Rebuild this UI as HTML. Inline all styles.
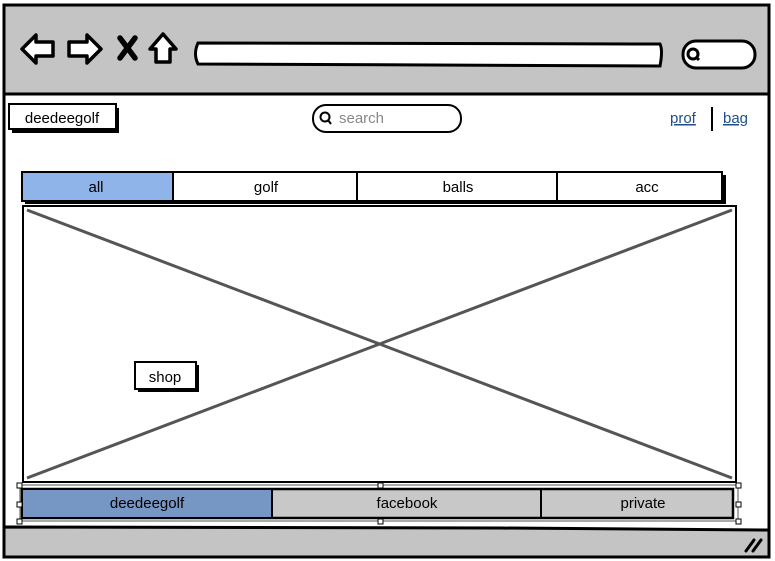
<!DOCTYPE html>
<html><head><meta charset="utf-8"><style>
html,body{margin:0;padding:0;background:#fff;}
svg{display:block;font-family:"Liberation Sans",sans-serif;}
</style></head><body>
<svg width="775" height="561" viewBox="0 0 775 561" xmlns="http://www.w3.org/2000/svg">
<rect x="0" y="0" width="775" height="561" fill="#fff"/>
<rect x="4" y="5" width="765" height="89" fill="#c4c4c4"/>
<line x1="4" y1="94" x2="769" y2="94" stroke="#000" stroke-width="3"/>
<path d="M4 527 L500 528 L769 530 L769 557 L4 557 Z" fill="#c4c4c4" stroke="#000" stroke-width="3"/>
<rect x="4" y="5" width="765" height="552" fill="none" stroke="#000" stroke-width="3"/>
<path d="M22 49 L36 35 L36 42 L53 42 L53 56 L36 56 L36 63 Z" fill="#fff" stroke="#000" stroke-width="3.5" stroke-linejoin="round"/>
<path d="M101 49 L87 35 L87 42 L69 42 L69 56 L87 56 L87 63 Z" fill="#fff" stroke="#000" stroke-width="3.5" stroke-linejoin="round"/>
<path d="M120 38 L135 58 M135 38 L120 58" stroke="#000" stroke-width="5.5" stroke-linecap="round"/>
<path d="M150 49 L163 34 L176 49 L170 49 L170 62 L156 62 L156 49 Z" fill="#fff" stroke="#000" stroke-width="3.5" stroke-linejoin="round"/>
<path d="M198 43 L660 44 Q663 50 660 66 L198 64 Q193 54 198 43 Z" fill="#fff" stroke="#000" stroke-width="3"/>
<rect x="683" y="41" width="72" height="27" rx="13" fill="#fff" stroke="#000" stroke-width="3"/>
<circle cx="693" cy="54" r="5" fill="none" stroke="#000" stroke-width="3"/>
<line x1="696" y1="57" x2="699" y2="60" stroke="#000" stroke-width="3"/>
<rect x="12" y="108" width="107" height="25" fill="#000"/>
<rect x="9" y="104" width="107" height="25" fill="#fff" stroke="#000" stroke-width="2"/>
<text x="62" y="123" font-size="15" text-anchor="middle">deedeegolf</text>
<rect x="313" y="105" width="148" height="27" rx="13" fill="#fff" stroke="#000" stroke-width="2"/>
<circle cx="325" cy="117" r="4.5" fill="none" stroke="#000" stroke-width="2"/>
<line x1="328" y1="120" x2="331" y2="124" stroke="#000" stroke-width="2"/>
<text x="339" y="123" font-size="15" fill="#888">search</text>
<text x="670" y="123" font-size="15" fill="#1f4e8c" text-decoration="underline">prof</text>
<line x1="712" y1="107" x2="712" y2="131" stroke="#000" stroke-width="2"/>
<text x="723" y="123" font-size="15" fill="#1f4e8c" text-decoration="underline">bag</text>
<rect x="25" y="175" width="701" height="29" fill="#000"/>
<rect x="22" y="172" width="700" height="29" fill="#fff" stroke="#000" stroke-width="2"/>
<rect x="23" y="173" width="150" height="27" fill="#8fb4ea"/>
<line x1="173" y1="172" x2="173" y2="201" stroke="#000" stroke-width="2"/>
<line x1="357" y1="172" x2="357" y2="201" stroke="#000" stroke-width="2"/>
<line x1="557" y1="172" x2="557" y2="201" stroke="#000" stroke-width="2"/>
<text x="96" y="192" font-size="15" text-anchor="middle">all</text>
<text x="266" y="192" font-size="15" text-anchor="middle">golf</text>
<text x="458" y="192" font-size="15" text-anchor="middle">balls</text>
<text x="647" y="192" font-size="15" text-anchor="middle">acc</text>
<rect x="23" y="206" width="713" height="276" fill="#fff" stroke="#000" stroke-width="2"/>
<line x1="27" y1="210" x2="732" y2="478" stroke="#555" stroke-width="3"/>
<line x1="27" y1="478" x2="732" y2="210" stroke="#555" stroke-width="3"/>
<rect x="138" y="365" width="61" height="27" fill="#000"/>
<rect x="135" y="362" width="61" height="27" fill="#fff" stroke="#000" stroke-width="2"/>
<text x="165" y="382" font-size="15" text-anchor="middle">shop</text>
<rect x="20" y="485" width="718" height="36" fill="#fff" stroke="#555" stroke-width="1"/>
<rect x="22" y="489" width="711" height="29" fill="#c8c8c8" stroke="#000" stroke-width="2.5"/>
<rect x="23" y="490" width="249" height="27" fill="#7696c4"/>
<line x1="272" y1="489" x2="272" y2="518" stroke="#000" stroke-width="2"/>
<line x1="541" y1="489" x2="541" y2="518" stroke="#000" stroke-width="2"/>
<text x="147" y="508" font-size="15" text-anchor="middle">deedeegolf</text>
<text x="407" y="508" font-size="15" text-anchor="middle">facebook</text>
<text x="643" y="508" font-size="15" text-anchor="middle">private</text>
<g fill="#fff" stroke="#000" stroke-width="1">
<rect x="17" y="483" width="5" height="5"/><rect x="378" y="483" width="5" height="5"/><rect x="736" y="483" width="5" height="5"/>
<rect x="17" y="502" width="5" height="5"/><rect x="736" y="502" width="5" height="5"/>
<rect x="17" y="519" width="5" height="5"/><rect x="378" y="519" width="5" height="5"/><rect x="736" y="519" width="5" height="5"/>
</g>
<path d="M746 551 L754 540 M753 551 L761 540" stroke="#000" stroke-width="3" stroke-linecap="round"/>
</svg>
</body></html>
